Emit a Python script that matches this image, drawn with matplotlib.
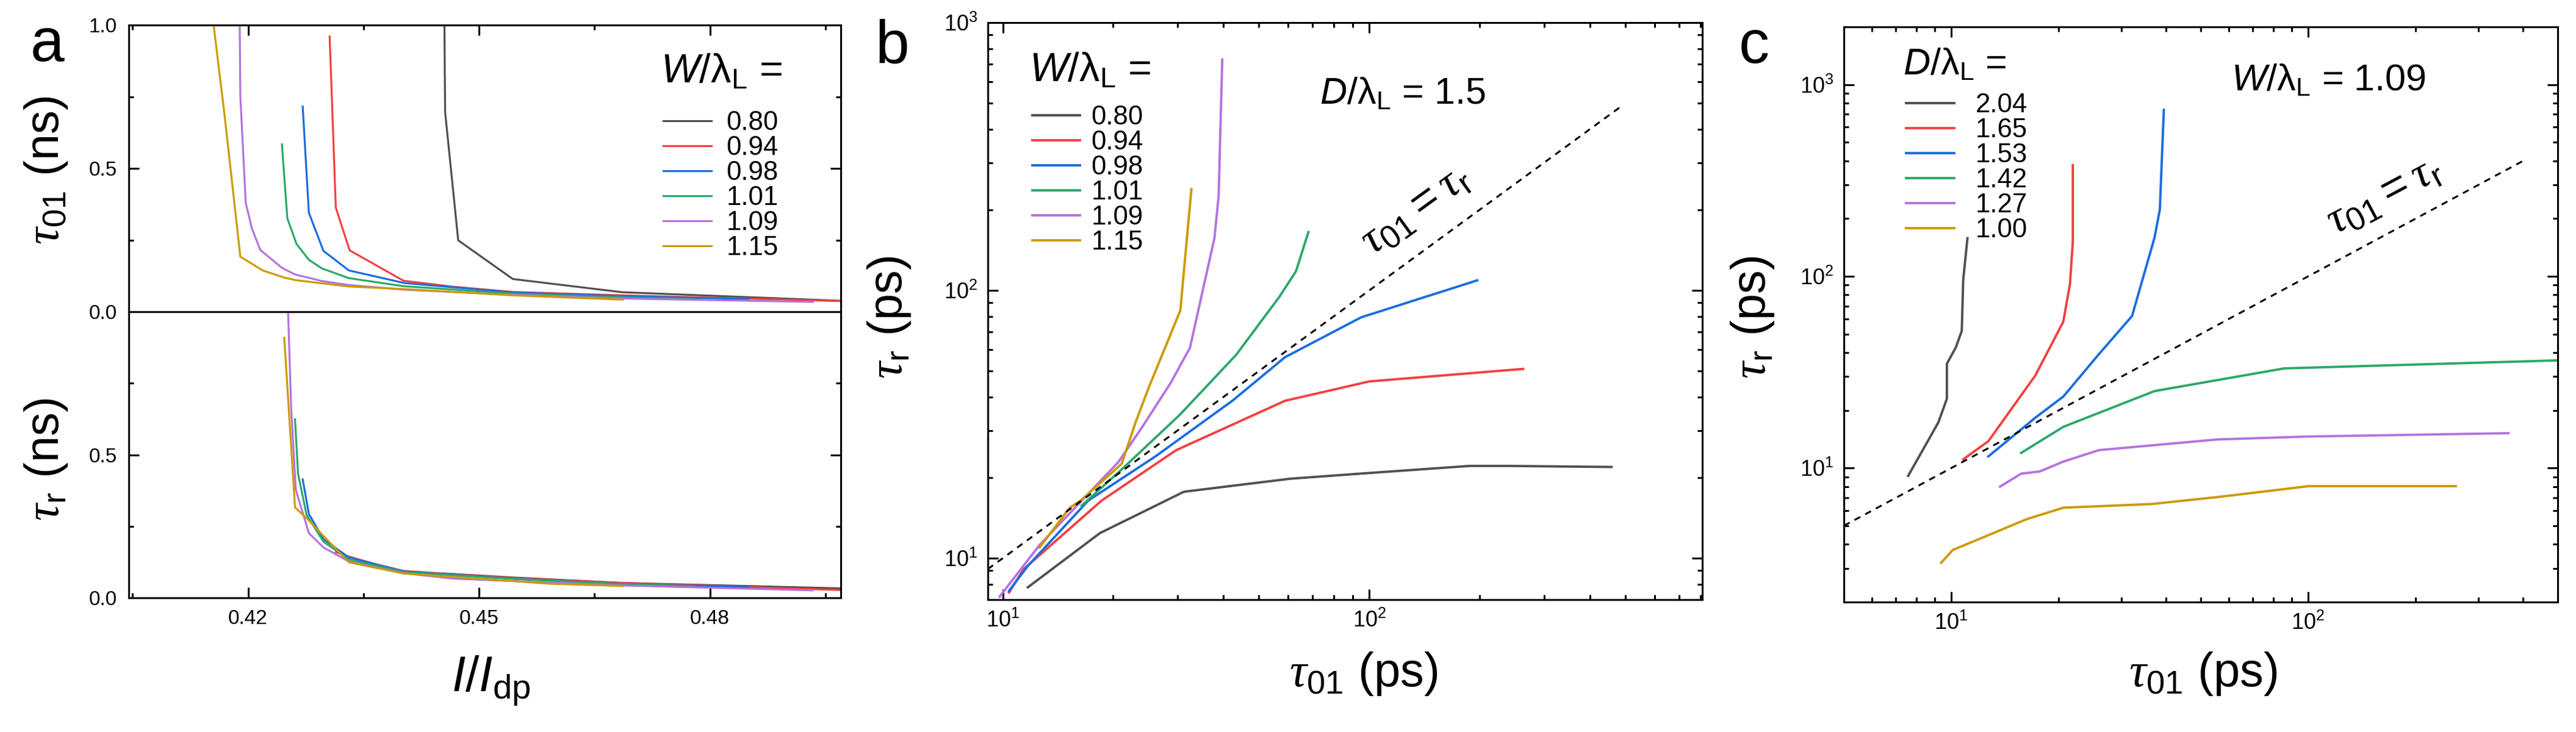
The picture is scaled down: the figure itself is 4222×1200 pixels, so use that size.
import matplotlib
matplotlib.use('Agg')
import matplotlib.pyplot as plt
from matplotlib.ticker import FixedLocator, LogLocator, LogFormatterMathtext, NullFormatter

# ---- data ----
colors = ['#505050', '#f24040', '#1a6de0', '#2ca868', '#b373e0', '#cc9a00']
w_labels = ['0.80', '0.94', '0.98', '1.01', '1.09', '1.15']
d_labels = ['2.04', '1.65', '1.53', '1.42', '1.27', '1.00']

# panel a, top: tau_01 (ns) vs I/I_dp
a_top_x = [
    [0.4455, 0.4456, 0.4473, 0.4544, 0.4686, 0.4970],
    [0.4306, 0.4314, 0.4332, 0.4402, 0.4467, 0.4544, 0.4686, 0.4970],
    [0.4271, 0.4279, 0.4298, 0.4331, 0.4403, 0.4544, 0.4686, 0.4850],
    [0.4244, 0.4251, 0.4263, 0.4279, 0.4296, 0.4331, 0.4402, 0.4544, 0.4686, 0.4780],
    [0.4189, 0.4190, 0.4197, 0.4205, 0.4216, 0.4244, 0.4261, 0.4296, 0.4331, 0.4402, 0.4544, 0.4686, 0.4934],
    [0.4153, 0.4169, 0.4190, 0.4219, 0.4247, 0.4262, 0.4331, 0.4402, 0.4544, 0.4687],
]
a_top_y = [
    [1.05, 0.697, 0.249, 0.114, 0.068, 0.038],
    [0.96, 0.363, 0.214, 0.108, 0.087, 0.069, 0.057, 0.037],
    [0.716, 0.345, 0.212, 0.144, 0.100, 0.067, 0.054, 0.044],
    [0.584, 0.326, 0.236, 0.181, 0.151, 0.117, 0.089, 0.063, 0.050, 0.044],
    [1.05, 0.75, 0.38, 0.29, 0.215, 0.153, 0.130, 0.107, 0.093, 0.077, 0.059, 0.046, 0.034],
    [1.05, 0.697, 0.192, 0.144, 0.119, 0.110, 0.088, 0.079, 0.057, 0.042],
]

# panel a, bottom: tau_r (ns) vs I/I_dp
a_bot_x = [
    [0.4455, 0.4544, 0.4686, 0.4970],
    [0.4314, 0.4331, 0.4365, 0.4402, 0.4544, 0.4686, 0.4970],
    [0.4271, 0.4279, 0.4298, 0.4331, 0.4402, 0.4544, 0.4686, 0.4850],
    [0.4261, 0.4265, 0.4276, 0.4298, 0.4331, 0.4402, 0.4544, 0.4686, 0.4780],
    [0.4252, 0.4256, 0.4262, 0.4279, 0.4298, 0.4331, 0.4402, 0.4467, 0.4686, 0.4934],
    [0.4247, 0.4261, 0.4277, 0.4292, 0.4331, 0.4402, 0.4593, 0.4687],
]
a_bot_y = [
    [0.085, 0.071, 0.052, 0.033],
    [0.160, 0.144, 0.118, 0.094, 0.069, 0.052, 0.027],
    [0.414, 0.293, 0.205, 0.141, 0.092, 0.067, 0.048, 0.037],
    [0.624, 0.433, 0.290, 0.196, 0.134, 0.090, 0.066, 0.048, 0.040],
    [1.0, 0.662, 0.378, 0.226, 0.176, 0.127, 0.086, 0.067, 0.043, 0.026],
    [0.909, 0.316, 0.276, 0.233, 0.124, 0.085, 0.049, 0.041],
]

# panel b: tau_r (ps) vs tau_01 (ps), D/lambda_L = 1.5
b_x = [
    [11.7, 18.4, 31.2, 60.9, 100, 188, 239, 458],
    [10.4, 11.4, 18.6, 29.7, 58.9, 100, 263],
    [10.4, 11.7, 17.1, 26.1, 42.4, 58.9, 95, 197],
    [16.4, 21.3, 30.4, 43.3, 56.9, 63.1, 68.2],
    [9.8, 12.6, 20.7, 24.2, 28.7, 32.4, 37.8, 38.8, 39.7],
    [12.6, 15.2, 16.3, 21.1, 23.0, 25.0, 30.5, 32.7],
]
b_y = [
    [7.78, 12.4, 17.7, 19.8, 20.8, 22.1, 22.1, 21.9],
    [7.45, 9.1, 16.4, 25.3, 38.7, 45.7, 50.9],
    [7.55, 9.35, 16.4, 24.0, 38.8, 56.3, 79.3, 109],
    [15.7, 21.7, 34.3, 57.4, 94.8, 118, 165],
    [7.18, 11.2, 22.9, 31.4, 45.1, 61, 157, 225, 728],
    [10.95, 15.4, 16.4, 22.5, 32.0, 43.3, 84.1, 239],
]
b_diag = [9.1, 490]

# panel c: tau_r (ps) vs tau_01 (ps), W/lambda_L = 1.09
c_x = [
    [7.57, 9.2, 9.72, 9.72, 10.3, 10.7, 10.8, 11.1],
    [10.8, 12.7, 17.2, 20.6, 21.5, 21.9, 21.9],
    [12.7, 17.2, 20.6, 25.9, 32.1, 37.1, 38.4, 39.4],
    [15.7, 20.6, 37.1, 85.7, 520],
    [13.7, 15.7, 17.7, 20.6, 25.9, 55.8, 100, 364],
    [9.37, 10.1, 16.3, 20.6, 36.4, 55.8, 100, 259],
]
c_y = [
    [9.1, 17.3, 23.0, 35.0, 42.6, 51.9, 96, 158],
    [11.1, 13.8, 30.4, 58, 91, 151, 380],
    [11.5, 18.3, 23.6, 39.2, 62.1, 159, 223, 738],
    [12.0, 16.4, 25.2, 33.1, 36.5],
    [8.0, 9.35, 9.6, 10.8, 12.4, 14.1, 14.6, 15.2],
    [3.21, 3.74, 5.42, 6.21, 6.49, 7.06, 8.04, 8.04],
]
c_diag = [5.0, 405]

# ---- fonts ----
plt.rcParams['font.family'] = ['Liberation Sans', 'DejaVu Sans']
plt.rcParams['mathtext.fontset'] = 'custom'
plt.rcParams['mathtext.rm'] = 'Liberation Sans'
plt.rcParams['mathtext.it'] = 'Liberation Sans:italic'
plt.rcParams['mathtext.sf'] = 'Liberation Serif:italic'
plt.rcParams['axes.linewidth'] = 2.2

TAU = r'\mathsf{\tau}'
W_LAM = r'$\mathit{W}/\mathrm{\lambda}_\mathrm{L}$'
D_LAM = r'$\mathit{D}/\mathrm{\lambda}_\mathrm{L}$'

FW, FH = 4222, 1200
fig = plt.figure(figsize=(FW / 100, FH / 100), dpi=100)


def px_axes(left, top, right, bottom):
    return fig.add_axes([left / FW, 1 - bottom / FH, (right - left) / FW, (bottom - top) / FH])


def style_ticks(ax, labelsize, pad):
    ax.tick_params(which='both', direction='in', width=2.2, top=True, right=True,
                   labelsize=labelsize, pad=pad)
    ax.tick_params(which='major', length=12)
    ax.tick_params(which='minor', length=6)


def add_legend(ax, title, x, y_title, y_top, textpad, title_size=48):
    # title drawn as plain text, entries as a legend just below it
    ax.text(x, y_title, title, transform=ax.transAxes, fontsize=title_size, va='baseline')
    ax.legend(loc='upper left', bbox_to_anchor=(x + 0.004, y_top), frameon=False,
              borderpad=0, borderaxespad=0, fontsize=31.5, labelspacing=0.0,
              handlelength=1.8, handletextpad=textpad)


# ---- panel a ----
axt = px_axes(211, 41, 1378, 511)
axbt = px_axes(211, 511, 1378, 980)
for ax in (axt, axbt):
    ax.set_xlim(0.4045, 0.497)
    ax.set_ylim(0, 1.0)
    ax.xaxis.set_major_locator(FixedLocator([0.42, 0.45, 0.48]))
    ax.xaxis.set_minor_locator(FixedLocator([0.405, 0.435, 0.465, 0.495]))
    ax.yaxis.set_minor_locator(FixedLocator([0.25, 0.75]))
    style_ticks(ax, 24, 14)

axt.set_yticks([0.0, 0.5, 1.0], ['0.0', '0.5', '1.0'])
axt.tick_params(which='both', bottom=False, labelbottom=False)
axbt.set_yticks([0.0, 0.5], ['0.0', '0.5'])
axbt.set_xticklabels(['0.42', '0.45', '0.48'])
axbt.tick_params(which='both', top=False)

for i in range(6):
    axt.plot(a_top_x[i], a_top_y[i], color=colors[i], lw=2.3, label=w_labels[i])
    axbt.plot(a_bot_x[i], a_bot_y[i], color=colors[i], lw=2.3)

axt.set_ylabel(r'$' + TAU + r'_\mathrm{01}$ (ns)', fontsize=56, va='center', ha='center')
axt.yaxis.set_label_coords(-0.1165, 0.494)
axbt.set_ylabel(r'$' + TAU + r'_\mathrm{r}$ (ns)', fontsize=56, va='center', ha='center')
axbt.yaxis.set_label_coords(-0.1165, 0.484)
axbt.set_xlabel(r'$\mathit{I}/\mathit{I}_\mathrm{dp}$', fontsize=58, va='baseline')
axbt.xaxis.set_label_coords(0.509, -0.328)

add_legend(axt, W_LAM + ' =', 0.747, 0.800, 0.702, 0.55)

# ---- panel b ----
axb = px_axes(1619, 37, 2790, 983)
axb.set_xscale('log')
axb.set_yscale('log')
axb.set_xlim(9.1, 810)
axb.set_ylim(7, 1000)
for i in range(6):
    axb.plot(b_x[i], b_y[i], color=colors[i], lw=2.8, label=w_labels[i])
axb.plot(b_diag, b_diag, color='black', lw=2.2, dashes=(3.5, 3))
add_legend(axb, W_LAM + ' =', 0.058, 0.8985, 0.857, 0.42)
axb.text(0.4646, 0.859, D_LAM + ' = 1.5', transform=axb.transAxes, fontsize=44, va='baseline')
axb.text(134, 200, r'$' + TAU + r'_\mathrm{01} = ' + TAU + r'_\mathrm{r}$', fontsize=54,
         rotation=36, ha='center', va='center', rotation_mode='anchor')
axb.set_ylabel(r'$' + TAU + r'_\mathrm{r}$ (ps)', fontsize=56, va='center', ha='center')
axb.yaxis.set_label_coords(-0.1375, 0.489)
axb.set_xlabel(r'$' + TAU + r'_\mathrm{01}$ (ps)', fontsize=56, va='baseline')
axb.xaxis.set_label_coords(0.526, -0.150)

# ---- panel c ----
axc = px_axes(3022, 44, 4192, 987)
axc.set_xscale('log')
axc.set_yscale('log')
axc.set_xlim(5, 500)
axc.set_ylim(2, 2000)
for i in range(6):
    axc.plot(c_x[i], c_y[i], color=colors[i], lw=2.8, label=d_labels[i])
axc.plot(c_diag, c_diag, color='black', lw=2.2, dashes=(3.5, 3))
add_legend(axc, D_LAM + ' =', 0.083, 0.917, 0.885, 0.8, title_size=44)
axc.text(0.543, 0.889, W_LAM + ' = 1.09', transform=axc.transAxes, fontsize=44, va='baseline')
axc.text(163, 264, r'$' + TAU + r'_\mathrm{01} = ' + TAU + r'_\mathrm{r}$', fontsize=54,
         rotation=28, ha='center', va='center', rotation_mode='anchor')
axc.set_ylabel(r'$' + TAU + r'_\mathrm{r}$ (ps)', fontsize=56, va='center', ha='center')
axc.yaxis.set_label_coords(-0.128, 0.495)
axc.set_xlabel(r'$' + TAU + r'_\mathrm{01}$ (ps)', fontsize=56, va='baseline')
axc.xaxis.set_label_coords(0.503, -0.146)

for ax in (axb, axc):
    for axis in (ax.xaxis, ax.yaxis):
        axis.set_major_locator(LogLocator(base=10, numticks=10))
        axis.set_minor_locator(LogLocator(base=10, subs=range(2, 10), numticks=20))
        axis.set_major_formatter(LogFormatterMathtext())
        axis.set_minor_formatter(NullFormatter())
    style_ticks(ax, 26, 12)

# panel letters
fig.text(78 / FW, 1 - 100 / FH, 'a', fontsize=72, ha='center', va='baseline')
fig.text(1462 / FW, 1 - 103 / FH, 'b', fontsize=72, ha='center', va='baseline')
fig.text(2875 / FW, 1 - 103 / FH, 'c', fontsize=72, ha='center', va='baseline')

fig.savefig('out.png', dpi=100)
